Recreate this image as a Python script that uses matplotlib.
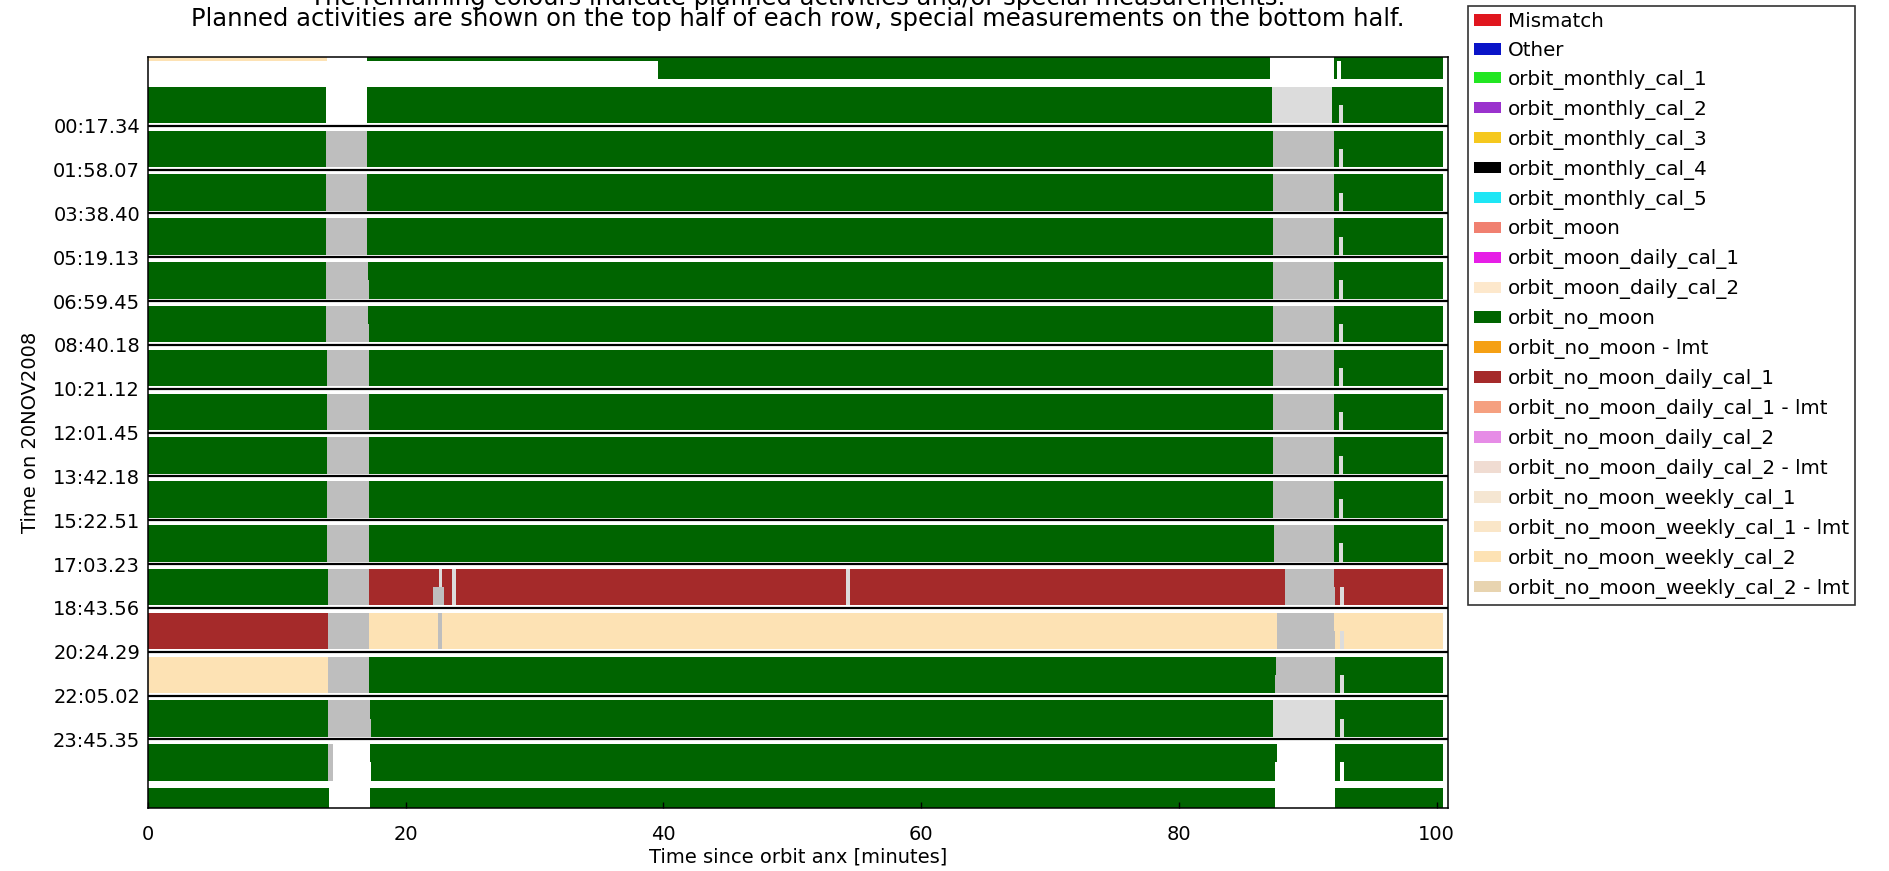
import matplotlib
matplotlib.use("Agg")
import matplotlib.pyplot as plt
from matplotlib.patches import Patch

# y axis: one row per orbit, labelled with the orbit start time
tick_labels = ['00:17.34', '01:58.07', '03:38.40', '05:19.13', '06:59.45',
               '08:40.18', '10:21.12', '12:01.45', '13:42.18', '15:22.51',
               '17:03.23', '18:43.56', '20:24.29', '22:05.02', '23:45.35']

legend_names = ['Mismatch', 'Other',
                'orbit_monthly_cal_1', 'orbit_monthly_cal_2', 'orbit_monthly_cal_3',
                'orbit_monthly_cal_4', 'orbit_monthly_cal_5',
                'orbit_moon', 'orbit_moon_daily_cal_1', 'orbit_moon_daily_cal_2',
                'orbit_no_moon', 'orbit_no_moon - lmt',
                'orbit_no_moon_daily_cal_1', 'orbit_no_moon_daily_cal_1 - lmt',
                'orbit_no_moon_daily_cal_2', 'orbit_no_moon_daily_cal_2 - lmt',
                'orbit_no_moon_weekly_cal_1', 'orbit_no_moon_weekly_cal_1 - lmt',
                'orbit_no_moon_weekly_cal_2', 'orbit_no_moon_weekly_cal_2 - lmt']
legend_colors = ['#e0161e', '#0a14c8',
                 '#22e622', '#9a32cd', '#f5c81e',
                 '#000000', '#1ee6f5',
                 '#f08070', '#e61ee6', '#fde8cc',
                 '#006400', '#f5a014',
                 '#a52a2a', '#f5a080',
                 '#e68ce6', '#f0dcd2',
                 '#f5e6d2', '#fae6c8',
                 '#fde2b4', '#e8d4b0']

NM = 'orbit_no_moon'
DC1 = 'orbit_no_moon_daily_cal_1'
WC2 = 'orbit_no_moon_weekly_cal_2'
GAP = 'gap'
LGAP = 'gap light'

row_ids = list(range(-2, 16))

# (start minute, end minute, activity) - top half of each row
planned = [
    [(0, 13.9, WC2), (17.0, 87.1, NM), (92.0, 100.5, NM)],
    [(0, 13.8, NM), (17.0, 87.2, NM), (87.2, 91.9, LGAP), (91.9, 100.5, NM)],
    [(0, 13.8, NM), (13.8, 17.0, GAP), (17.0, 87.3, NM), (87.3, 92.0, GAP), (92.0, 100.5, NM)],
    [(0, 13.8, NM), (13.8, 17.0, GAP), (17.0, 87.3, NM), (87.3, 92.0, GAP), (92.0, 100.5, NM)],
    [(0, 13.8, NM), (13.8, 17.0, GAP), (17.0, 87.3, NM), (87.3, 92.0, GAP), (92.0, 100.5, NM)],
    [(0, 13.8, NM), (13.8, 17.1, GAP), (17.1, 87.3, NM), (87.3, 92.0, GAP), (92.0, 100.5, NM)],
    [(0, 13.8, NM), (13.8, 17.1, GAP), (17.1, 87.3, NM), (87.3, 92.0, GAP), (92.0, 100.5, NM)],
    [(0, 13.9, NM), (13.9, 17.2, GAP), (17.2, 87.3, NM), (87.3, 92.0, GAP), (92.0, 100.5, NM)],
    [(0, 13.9, NM), (13.9, 17.2, GAP), (17.2, 87.3, NM), (87.3, 92.0, GAP), (92.0, 100.5, NM)],
    [(0, 13.9, NM), (13.9, 17.2, GAP), (17.2, 87.3, NM), (87.3, 92.0, GAP), (92.0, 100.5, NM)],
    [(0, 13.9, NM), (13.9, 17.2, GAP), (17.2, 87.3, NM), (87.3, 92.0, GAP), (92.0, 100.5, NM)],
    [(0, 13.9, NM), (13.9, 17.2, GAP), (17.2, 87.4, NM), (87.4, 92.0, GAP), (92.0, 100.5, NM)],
    [(0, 14.0, NM), (14.0, 17.2, GAP), (17.2, 22.6, DC1), (22.6, 22.8, LGAP), (22.8, 23.6, DC1),
     (23.6, 23.95, LGAP), (23.95, 54.2, DC1), (54.2, 54.5, LGAP), (54.5, 88.2, DC1),
     (88.2, 92.0, GAP), (92.0, 100.5, DC1)],
    [(0, 14.0, DC1), (14.0, 17.2, GAP), (17.2, 22.55, WC2), (22.55, 22.8, GAP), (22.8, 87.6, WC2),
     (87.6, 92.0, GAP), (92.0, 100.5, WC2)],
    [(0, 14.0, WC2), (14.0, 17.2, GAP), (17.2, 87.55, NM), (87.55, 92.1, GAP), (92.1, 100.5, NM)],
    [(0, 13.95, NM), (13.95, 17.25, GAP), (17.25, 87.3, NM), (87.3, 92.1, LGAP), (92.1, 100.5, NM)],
    [(0, 13.96, NM), (13.96, 14.35, GAP), (17.25, 87.6, NM), (92.1, 100.5, NM)],
    [(0, 14.07, NM), (17.25, 87.45, NM), (92.1, 100.5, NM)],
]

# bottom half of each row: special measurements
special = [
    [(39.6, 87.1, NM), (92.0, 92.3, NM), (92.6, 100.5, NM)],
    [(0, 13.8, NM), (17.0, 87.2, NM), (87.2, 91.9, LGAP), (91.9, 92.4, NM), (92.4, 92.7, LGAP), (92.7, 100.5, NM)],
    [(0, 13.8, NM), (13.8, 17.0, GAP), (17.0, 87.3, NM), (87.3, 92.0, GAP), (92.0, 92.45, NM), (92.45, 92.75, LGAP), (92.75, 100.5, NM)],
    [(0, 13.8, NM), (13.8, 17.0, GAP), (17.0, 87.3, NM), (87.3, 92.0, GAP), (92.0, 92.45, NM), (92.45, 92.75, LGAP), (92.75, 100.5, NM)],
    [(0, 13.8, NM), (13.8, 17.0, GAP), (17.0, 87.3, NM), (87.3, 92.0, GAP), (92.0, 92.45, NM), (92.45, 92.75, LGAP), (92.75, 100.5, NM)],
    [(0, 13.8, NM), (13.8, 17.2, GAP), (17.2, 87.3, NM), (87.3, 92.0, GAP), (92.0, 92.45, NM), (92.45, 92.75, LGAP), (92.75, 100.5, NM)],
    [(0, 13.8, NM), (13.8, 17.2, GAP), (17.2, 87.3, NM), (87.3, 92.0, GAP), (92.0, 92.45, NM), (92.45, 92.75, LGAP), (92.75, 100.5, NM)],
    [(0, 13.9, NM), (13.9, 17.2, GAP), (17.2, 87.3, NM), (87.3, 92.0, GAP), (92.0, 92.45, NM), (92.45, 92.75, LGAP), (92.75, 100.5, NM)],
    [(0, 13.9, NM), (13.9, 17.2, GAP), (17.2, 87.3, NM), (87.3, 92.0, GAP), (92.0, 92.45, NM), (92.45, 92.75, LGAP), (92.75, 100.5, NM)],
    [(0, 13.9, NM), (13.9, 17.2, GAP), (17.2, 87.3, NM), (87.3, 92.0, GAP), (92.0, 92.45, NM), (92.45, 92.75, LGAP), (92.75, 100.5, NM)],
    [(0, 13.9, NM), (13.9, 17.2, GAP), (17.2, 87.3, NM), (87.3, 92.0, GAP), (92.0, 92.45, NM), (92.45, 92.75, LGAP), (92.75, 100.5, NM)],
    [(0, 13.9, NM), (13.9, 17.2, GAP), (17.2, 87.4, NM), (87.4, 92.0, GAP), (92.0, 92.45, NM), (92.45, 92.75, LGAP), (92.75, 100.5, NM)],
    [(0, 14.0, NM), (14.0, 17.2, GAP), (17.2, 22.15, DC1), (22.15, 22.95, GAP), (22.95, 23.6, DC1),
     (23.6, 23.95, LGAP), (23.95, 54.2, DC1), (54.2, 54.5, LGAP), (54.5, 88.2, DC1),
     (88.2, 92.1, GAP), (92.1, 92.5, DC1), (92.5, 92.8, LGAP), (92.8, 100.5, DC1)],
    [(0, 14.0, DC1), (14.0, 17.2, GAP), (17.2, 22.55, WC2), (22.55, 22.8, GAP), (22.8, 87.6, WC2),
     (87.6, 92.1, GAP), (92.1, 92.5, WC2), (92.5, 92.8, LGAP), (92.8, 100.5, WC2)],
    [(0, 14.0, WC2), (14.0, 17.2, GAP), (17.2, 87.45, NM), (87.45, 92.1, GAP), (92.1, 92.5, NM), (92.5, 92.8, LGAP), (92.8, 100.5, NM)],
    [(0, 13.95, NM), (13.95, 17.3, GAP), (17.3, 87.3, NM), (87.3, 92.1, LGAP), (92.1, 92.5, NM), (92.5, 92.8, LGAP), (92.8, 100.5, NM)],
    [(0, 13.96, NM), (13.96, 14.35, GAP), (17.3, 87.45, NM), (92.1, 92.5, NM), (92.8, 100.5, NM)],
    [(0, 14.07, NM), (17.25, 87.45, NM), (92.1, 100.5, NM)],
]

colour_of = dict(zip(legend_names, legend_colors))
colour_of[GAP] = '#bebebe'
colour_of[LGAP] = '#dcdcdc'

plt.rcParams['font.family'] = 'DejaVu Sans'

fig = plt.figure(figsize=(18.89, 8.71), dpi=100)
ax = fig.add_axes([0.0782, 0.0720, 0.6885, 0.8629])

# each row: band from row+0.11 to row+0.94, split in two halves
half = 0.415
for r, p_segs, s_segs in zip(row_ids, planned, special):
    for start, end, act in p_segs:
        ax.barh(r + 0.11 + half / 2, end - start, left=start, height=half,
                color=colour_of[act], linewidth=0)
    for start, end, act in s_segs:
        ax.barh(r + 0.11 + 1.5 * half, end - start, left=start, height=half,
                color=colour_of[act], linewidth=0)

ax.set_xlim(0, 100.9)
ax.set_ylim(15.57, -1.577)

ax.set_yticks(range(len(tick_labels)))
ax.set_yticklabels(tick_labels)
ax.yaxis.grid(True, color='black', linewidth=1.6)
ax.tick_params(axis='y', length=0, pad=5.5, labelsize=14)
ax.set_xticks([0, 20, 40, 60, 80, 100])
ax.tick_params(axis='x', direction='in', length=4, width=1, pad=12, labelsize=14)
for sp in ax.spines.values():
    sp.set_linewidth(1.1)

ax.set_xlabel('Time since orbit anx [minutes]', fontsize=14)
ax.xaxis.label.set_va('center')
ax.xaxis.set_label_coords(0.5, -0.0648)
ax.set_ylabel('Time on 20NOV2008', fontsize=14)
ax.yaxis.label.set_va('center')
ax.yaxis.set_label_coords(-0.0905, 0.5)

fig.text(0.4224, 1 - 4.5 / 871, 'The remaining colours indicate planned activities and/or special measurements.',
         ha='center', va='baseline', fontsize=17.5)
fig.text(0.4224, 1 - 26 / 871, 'Planned activities are shown on the top half of each row, special measurements on the bottom half.',
         ha='center', va='baseline', fontsize=17.5)

handles = [Patch(facecolor=c, edgecolor='none') for c in legend_colors]
leg = fig.legend(handles, legend_names, loc='upper left',
                 bbox_to_anchor=(1468 / 1889, 1 - 6 / 871), bbox_transform=fig.transFigure,
                 borderaxespad=0, fontsize=14.3, frameon=True, fancybox=False,
                 handlelength=1.34, handleheight=0.51, handletextpad=0.35,
                 labelspacing=0.5, borderpad=0.3)
leg.get_frame().set_edgecolor('black')
leg.get_frame().set_linewidth(1.2)

fig.savefig('out.png', dpi=100)
